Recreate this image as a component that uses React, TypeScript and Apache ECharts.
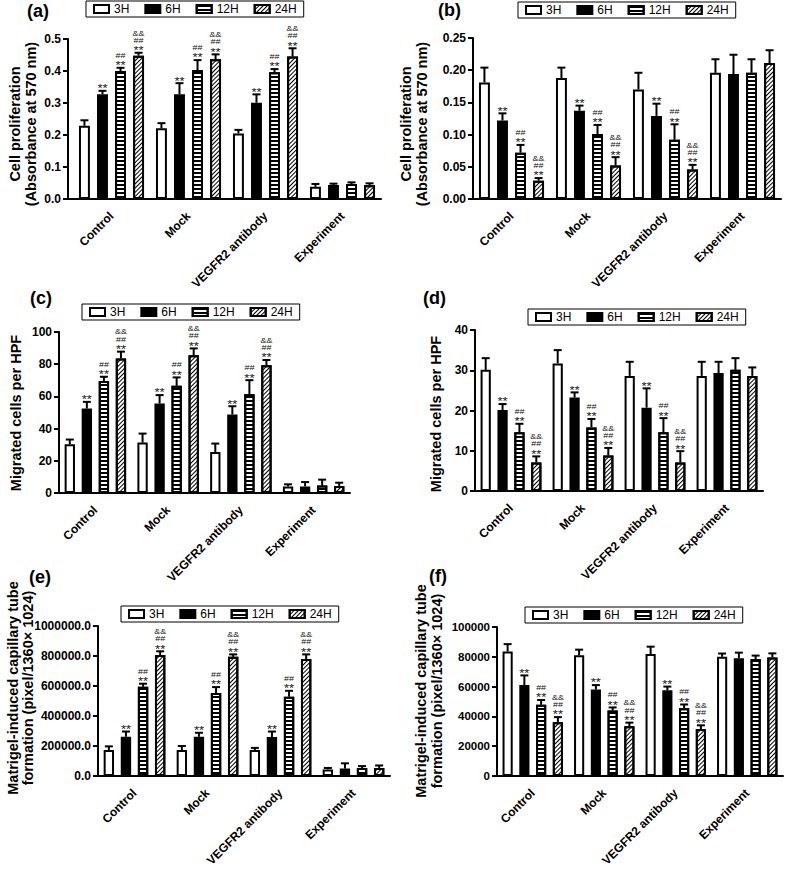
import React, { useEffect, useRef } from "react";
import * as echarts from "echarts";

const categories = ["Control", "Mock", "VEGFR2 antibody", "Experiment"];
const timePoints = ["3H", "6H", "12H", "24H"];

// significance marks per time point (rows) and category (cols): 1 = **, 2 = ** ##, 3 = ** ## &&
const sigLevels = [
  [0, 0, 0, 0],
  [1, 1, 1, 0],
  [2, 2, 2, 0],
  [3, 3, 3, 0],
];

// (a) Cell proliferation, rows = 3H, 6H, 12H, 24H
const aMeans = [
  [0.229, 0.221, 0.205, 0.038],
  [0.327, 0.327, 0.301, 0.044],
  [0.4, 0.403, 0.396, 0.047],
  [0.448, 0.437, 0.445, 0.043],
];
const aErrors = [
  [0.017, 0.016, 0.011, 0.009],
  [0.011, 0.035, 0.026, 0.004],
  [0.01, 0.031, 0.01, 0.005],
  [0.009, 0.015, 0.026, 0.006],
];

// (b)
const bMeans = [
  [0.181, 0.188, 0.17, 0.196],
  [0.122, 0.137, 0.129, 0.194],
  [0.072, 0.101, 0.092, 0.196],
  [0.0285, 0.052, 0.046, 0.211],
];
const bErrors = [
  [0.023, 0.016, 0.026, 0.021],
  [0.011, 0.008, 0.019, 0.03],
  [0.012, 0.014, 0.024, 0.021],
  [0.004, 0.013, 0.007, 0.02],
];

// (c) Migrated cells
const cMeans = [
  [30.3, 31.3, 25.5, 4.1],
  [52.5, 55.6, 48.8, 4.1],
  [69.5, 66.6, 61.4, 4.6],
  [83.6, 85.5, 79.3, 4.4],
];
const cErrors = [
  [2.9, 5.6, 5.2, 1.3],
  [4.1, 5.2, 5.1, 2.7],
  [2.7, 5.2, 8.7, 3.7],
  [4.2, 4.3, 3.3, 2.0],
];

// (d)
const dMeans = [
  [30.1, 31.7, 28.6, 28.6],
  [20.1, 23.2, 20.7, 29.3],
  [14.6, 15.8, 14.6, 30.1],
  [7.1, 8.8, 7.1, 28.6],
];
const dErrors = [
  [2.9, 3.3, 3.5, 3.5],
  [1.5, 1.3, 4.8, 2.8],
  [2.1, 2.1, 3.5, 2.9],
  [1.5, 1.9, 2.8, 2.1],
];

// (e) Matrigel tube formation
const eMeans = [
  [172800, 172800, 172800, 43200],
  [261300, 261300, 259300, 49400],
  [594700, 553500, 528800, 53500],
  [806600, 794200, 779800, 53500],
];
const eErrors = [
  [24700, 26800, 14400, 10300],
  [35000, 26800, 37000, 35000],
  [20500, 39100, 39100, 12300],
  [24700, 16500, 30900, 16500],
];

// (f)
const fMeans = [
  [83500, 81000, 81800, 80000],
  [61000, 58000, 57500, 79000],
  [47800, 44000, 45500, 78500],
  [36000, 33300, 31500, 79500],
];
const fErrors = [
  [5000, 3800, 5000, 2200],
  [6500, 3000, 2500, 3800],
  [3200, 2000, 2500, 2300],
  [3500, 2500, 2500, 2800],
];

const FONT = 'Arial, "Liberation Sans", Helvetica, sans-serif';
const BAR_FRAC = 0.142; // bar width as fraction of category band
const BAR_GAP = 0.65;

const panels = [
  {
    tag: "(a)", means: aMeans, errors: aErrors, max: 0.5, interval: 0.1, digits: 1,
    yName: "Cell proliferation\n(Absorbance at 570 nm)",
    grid: { left: 73, top: 39, width: 308, height: 160 }, yOffset: 5, tickFont: 12,
    legend: { left: 86, top: 1 }, tagPos: [49, 11], namePos: [23, 124], nameLH: 16,
  },
  {
    tag: "(b)", means: bMeans, errors: bErrors, max: 0.25, interval: 0.05, digits: 2,
    yName: "Cell proliferation\n(Absorbance at 570 nm)",
    grid: { left: 473, top: 38, width: 308, height: 161 }, yOffset: 0, tickFont: 12,
    legend: { left: 518, top: 2 }, tagPos: [461, 10], namePos: [414, 124], nameLH: 16,
  },
  {
    tag: "(c)", means: cMeans, errors: cErrors, max: 100, interval: 20, digits: 0,
    yName: "Migrated cells per HPF",
    grid: { left: 59, top: 332, width: 291, height: 161 }, yOffset: 0, tickFont: 12,
    legend: { left: 82, top: 304 }, tagPos: [52, 298], namePos: [16, 413], nameLH: 16,
  },
  {
    tag: "(d)", means: dMeans, errors: dErrors, max: 40, interval: 10, digits: 0,
    yName: "Migrated cells per HPF",
    grid: { left: 475, top: 330, width: 288, height: 161 }, yOffset: 0, tickFont: 12,
    legend: { left: 528, top: 309 }, tagPos: [446, 298], namePos: [436, 414], nameLH: 16,
  },
  {
    tag: "(e)", means: eMeans, errors: eErrors, max: 1000000, interval: 200000, digits: 1,
    yName: "Matrigel-induced capillary tube\nformation (pixel/1360\u00d7 1024)",
    grid: { left: 98, top: 626, width: 292, height: 162 }, yOffset: 0, tickFont: 12,
    legend: { left: 121, top: 606 }, tagPos: [51, 577], namePos: [20, 688], nameLH: 15,
  },
  {
    tag: "(f)", means: fMeans, errors: fErrors, max: 100000, interval: 20000, digits: 0,
    yName: "Matrigel-induced capillary tube\nformation (pixel/1360\u00d7 1024)",
    grid: { left: 497, top: 627, width: 286, height: 161 }, yOffset: 0, tickFont: 11.5,
    legend: { left: 525, top: 607 }, tagPos: [447, 576], namePos: [429, 691], nameLH: 16,
  },
];

const barStyles: any[] = [
  { color: "#fff", borderColor: "#000", borderWidth: 2 },
  { color: "#000", borderColor: "#000", borderWidth: 2 },
  {
    color: "#fff", borderColor: "#000", borderWidth: 2,
    decal: { symbol: "rect", symbolSize: 1, dashArrayX: [1, 0], dashArrayY: [1.5, 1.5], rotation: 0, color: "#000", backgroundColor: "#fff" },
  },
  {
    color: "#fff", borderColor: "#000", borderWidth: 2,
    decal: { symbol: "rect", symbolSize: 1, dashArrayX: [1, 0], dashArrayY: [1, 1.6], rotation: -Math.PI / 4, color: "#000", backgroundColor: "#fff" },
  },
];

const marks = [
  { t: "**", size: 13, sy: 0.85, dy: -2.3 },
  { t: "##", size: 9, sy: 0.7, dy: -12.1 },
  { t: "&&", size: 9, sy: 0.7, dy: -19.2 },
];

function buildOption() {
  const grid: any[] = [];
  const xAxis: any[] = [];
  const yAxis: any[] = [];
  const legend: any[] = [];
  const series: any[] = [];
  const graphic: any[] = [];

  panels.forEach((p, i) => {
    grid.push({ ...p.grid, containLabel: false });
    xAxis.push({
      type: "category", gridIndex: i, data: categories,
      axisLine: { lineStyle: { color: "#000", width: 2 } },
      axisTick: { alignWithLabel: true, length: 5, lineStyle: { color: "#000", width: 2 } },
      axisLabel: { rotate: 45, interval: 0, fontSize: 12, fontWeight: "bold", color: "#000", fontFamily: FONT, margin: 15 },
    });
    yAxis.push({
      type: "value", gridIndex: i, min: 0, max: p.max, interval: p.interval, offset: p.yOffset,
      axisLine: { show: true, lineStyle: { color: "#000", width: 2 } },
      axisTick: { show: true, length: 5, lineStyle: { color: "#000", width: 2 } },
      splitLine: { show: false },
      axisLabel: {
        fontSize: p.tickFont, fontWeight: "bold", color: "#000", fontFamily: FONT, margin: 7,
        formatter: (v: number) => v.toFixed(p.digits),
      },
    });
    legend.push({
      data: timePoints, left: p.legend.left, top: p.legend.top,
      orient: "horizontal", icon: "rect", itemWidth: 15, itemHeight: 8, itemGap: 15,
      padding: [2, 7], borderColor: "#000", borderWidth: 1, backgroundColor: "#fff",
      selectedMode: false,
      textStyle: { fontSize: 12, color: "#000", fontFamily: FONT },
    });
    timePoints.forEach((tp, s) => {
      series.push({
        type: "bar", name: tp, xAxisIndex: i, yAxisIndex: i,
        data: p.means[s], barWidth: `${BAR_FRAC * 100}%`, barGap: `${BAR_GAP * 100}%`,
        itemStyle: barStyles[s], z: 2,
      });
    });
    const errData: any[] = [];
    timePoints.forEach((tp, s) => {
      categories.forEach((c, k) => {
        errData.push([k, s, p.means[s][k], p.means[s][k] + p.errors[s][k], sigLevels[s][k]]);
      });
    });
    series.push({
      type: "custom", xAxisIndex: i, yAxisIndex: i, z: 5, silent: true,
      encode: { x: 0, y: [2, 3] },
      data: errData,
      renderItem: (params: any, api: any) => {
        const cat = api.value(0);
        const s = api.value(1);
        const mean = api.value(2);
        const top = api.value(3);
        const lvl = api.value(4);
        const base = api.coord([cat, mean]);
        const tp = api.coord([cat, top]);
        const band = api.size([1, 0])[0];
        const pitch = band * BAR_FRAC * (1 + BAR_GAP);
        const x = base[0] + (s - 1.5) * pitch;
        const children: any[] = [
          { type: "line", shape: { x1: x, y1: base[1], x2: x, y2: tp[1] }, style: { stroke: "#000", lineWidth: 2 } },
          { type: "line", shape: { x1: x - 4, y1: tp[1], x2: x + 4, y2: tp[1] }, style: { stroke: "#000", lineWidth: 2 } },
        ];
        for (let m = 0; m < lvl; m++) {
          children.push({
            type: "text", x, y: tp[1] + marks[m].dy, scaleY: marks[m].sy,
            style: { text: marks[m].t, fontSize: marks[m].size, fontFamily: FONT, fill: "#111", align: "center", verticalAlign: "middle" },
          });
        }
        return { type: "group", children };
      },
    });
    if (p.yOffset > 0) {
      const yb = p.grid.top + p.grid.height;
      graphic.push({
        type: "line", silent: true,
        shape: { x1: p.grid.left - p.yOffset - 1, y1: yb, x2: p.grid.left, y2: yb },
        style: { stroke: "#000", lineWidth: 2 },
      });
    }
    graphic.push({
      type: "text", x: p.tagPos[0], y: p.tagPos[1],
      style: { text: p.tag, fontSize: 18, fontWeight: "bold", fontFamily: FONT, fill: "#000", align: "right", verticalAlign: "middle" },
    });
    graphic.push({
      type: "text", x: p.namePos[0], y: p.namePos[1], rotation: Math.PI / 2,
      style: { text: p.yName, fontSize: 14.5, fontWeight: "bold", fontFamily: FONT, fill: "#000", align: "center", verticalAlign: "middle", lineHeight: p.nameLH },
    });
  });

  return { animation: false, backgroundColor: "#fff", grid, xAxis, yAxis, legend, series, graphic };
}

export default function App() {
  const ref = useRef<HTMLDivElement>(null);
  useEffect(() => {
    if (!ref.current) return;
    const chart = echarts.init(ref.current, null, { renderer: "svg" });
    chart.setOption(buildOption() as any);
    return () => chart.dispose();
  }, []);
  return (
    <div
      ref={ref}
      style={{ position: "fixed", left: 0, top: 0, width: 785, height: 869, background: "#fff" }}
    />
  );
}
